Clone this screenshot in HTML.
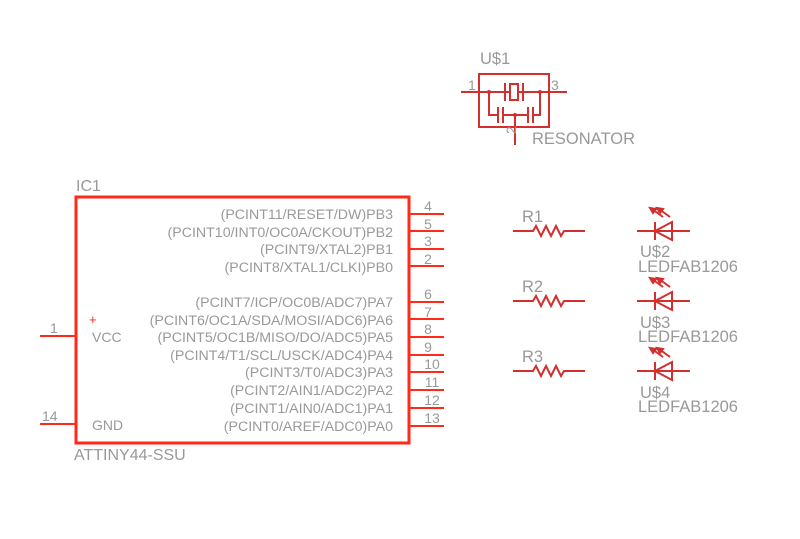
<!DOCTYPE html>
<html><head><style>
body{margin:0;background:#fff;}
svg text{font-family:"Liberation Sans",sans-serif;fill:#999;}
</style></head><body>
<svg width="800" height="534" viewBox="0 0 800 534" xmlns="http://www.w3.org/2000/svg">
<defs>
<g id="res"><path d="M513 0H533l3-5 5 10 5-10 5 10 5-10 5 10 3-5H585" fill="none" stroke="#d32f2f" stroke-width="2"/></g>
<g id="led" stroke="#d32f2f" fill="none" stroke-width="2">
<line x1="637" y1="0" x2="690" y2="0"/>
<line x1="655" y1="-9" x2="655" y2="9"/>
<path d="M655 0L672 -9V9Z"/>
<line x1="663" y1="-14" x2="652" y2="-22"/><line x1="670" y1="-14" x2="659" y2="-22"/>
<path d="M650 -23l6 1-3 4z M657 -23l6 1-3 4z" fill="#d32f2f"/>
</g>
</defs>
<rect x="76" y="197" width="333" height="246" fill="none" stroke="#ff2a1a" stroke-width="3"/>
<g stroke="#ff2a1a" stroke-width="2">
<line x1="40" y1="336" x2="76" y2="336"/><line x1="40" y1="424" x2="76" y2="424"/>
<line x1="409" y1="214" x2="444" y2="214"/><line x1="409" y1="231" x2="444" y2="231"/>
<line x1="409" y1="249" x2="444" y2="249"/><line x1="409" y1="266" x2="444" y2="266"/>
<line x1="409" y1="302" x2="444" y2="302"/><line x1="409" y1="319" x2="444" y2="319"/>
<line x1="409" y1="337" x2="444" y2="337"/><line x1="409" y1="355" x2="444" y2="355"/>
<line x1="409" y1="372" x2="444" y2="372"/><line x1="409" y1="390" x2="444" y2="390"/>
<line x1="409" y1="408" x2="444" y2="408"/><line x1="409" y1="426" x2="444" y2="426"/>
</g>
<g font-size="14">
<text x="76" y="191" font-size="16">IC1</text>
<text x="74" y="460" font-size="16">ATTINY44-SSU</text>
<text x="50" y="333">1</text><text x="42" y="421">14</text>
<text x="92" y="342">VCC</text><text x="92" y="430">GND</text>
<text x="89" y="324" font-size="13" style="fill:#ff2a1a">+</text>
<g text-anchor="end" font-size="14.2">
<text x="393" y="219">(PCINT11/RESET/DW)PB3</text>
<text x="393" y="237">(PCINT10/INT0/OC0A/CKOUT)PB2</text>
<text x="393" y="254">(PCINT9/XTAL2)PB1</text>
<text x="393" y="272">(PCINT8/XTAL1/CLKI)PB0</text>
<text x="393" y="307">(PCINT7/ICP/OC0B/ADC7)PA7</text>
<text x="393" y="325">(PCINT6/OC1A/SDA/MOSI/ADC6)PA6</text>
<text x="393" y="342">(PCINT5/OC1B/MISO/DO/ADC5)PA5</text>
<text x="393" y="360">(PCINT4/T1/SCL/USCK/ADC4)PA4</text>
<text x="393" y="377">(PCINT3/T0/ADC3)PA3</text>
<text x="393" y="395">(PCINT2/AIN1/ADC2)PA2</text>
<text x="393" y="413">(PCINT1/AIN0/ADC1)PA1</text>
<text x="393" y="431">(PCINT0/AREF/ADC0)PA0</text>
</g>
<g text-anchor="middle">
<text x="428" y="211">4</text><text x="428" y="229">5</text><text x="428" y="246">3</text><text x="428" y="264">2</text>
<text x="428" y="299">6</text><text x="428" y="317">7</text><text x="428" y="334">8</text><text x="428" y="352">9</text>
<text x="432" y="369">10</text><text x="432" y="387">11</text><text x="432" y="405">12</text><text x="432" y="423">13</text>
</g>
</g>
<g stroke="#d32f2f" stroke-width="2" fill="none">
<rect x="479" y="74" width="70" height="53"/>
<line x1="461" y1="92" x2="567" y2="92"/>
<rect x="510" y="84" width="8" height="16" fill="#fff"/>
<line x1="505" y1="83" x2="505" y2="101"/><line x1="523" y1="83" x2="523" y2="101"/>
<path d="M489 92V115H540V92"/>
<line x1="515" y1="115" x2="515" y2="145"/>
<rect x="498" y="105" width="5" height="20" fill="#fff" stroke="none"/>
<rect x="528" y="105" width="5" height="20" fill="#fff" stroke="none"/>
<line x1="498" y1="107" x2="498" y2="123"/><line x1="503" y1="107" x2="503" y2="123"/>
<line x1="528" y1="107" x2="528" y2="123"/><line x1="533" y1="107" x2="533" y2="123"/>
</g>
<g fill="#d32f2f"><circle cx="489" cy="92" r="2"/><circle cx="540" cy="92" r="2"/><circle cx="515" cy="115" r="2"/></g>
<g font-size="16.5">
<text x="480" y="64">U$1</text>
<text x="468" y="90" font-size="14">1</text>
<text x="551" y="90" font-size="14">3</text>
<text x="512" y="138" font-size="14" transform="rotate(-90 512 134)">2</text>
<text x="532" y="144">RESONATOR</text>
<text x="522" y="222">R1</text><text x="522" y="292">R2</text><text x="522" y="362">R3</text>
<text x="640" y="257">U$2</text><text x="638" y="272">LEDFAB1206</text>
<text x="640" y="328">U$3</text><text x="638" y="342">LEDFAB1206</text>
<text x="640" y="398">U$4</text><text x="638" y="412">LEDFAB1206</text>
</g>
<use href="#res" transform="translate(0,231)"/>
<use href="#res" transform="translate(0,301)"/>
<use href="#res" transform="translate(0,371)"/>
<use href="#led" transform="translate(0,231)"/>
<use href="#led" transform="translate(0,301)"/>
<use href="#led" transform="translate(0,371)"/>
</svg>
</body></html>
